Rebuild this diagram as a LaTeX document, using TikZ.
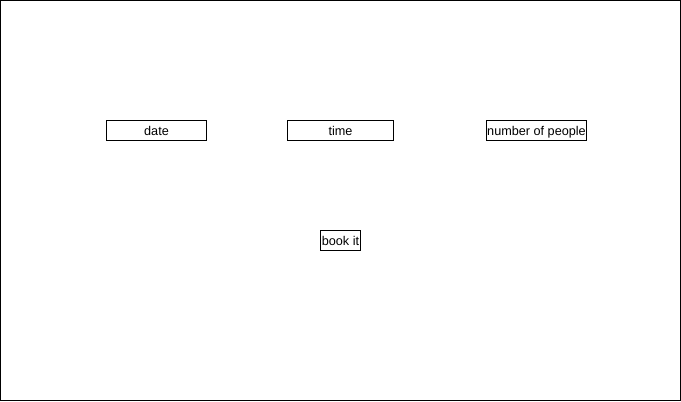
\documentclass[tikz,border=0pt]{standalone}
\usepackage{fontspec}
\setmainfont{Liberation Sans}
\begin{document}
\begin{tikzpicture}[x=0.75pt,y=-0.75pt,
    field/.style={draw,line width=0.75pt,inner sep=0pt,minimum height=15pt,text height=7.6pt,text depth=0.8pt,font=\fontsize{9.5}{10}\selectfont}]
            \draw[line width=0.75pt] (0.5,0.5) rectangle (680.5,400.5);
            \draw (156.5,130.5) node[field,minimum width=75pt] (date) {date};
            \draw (340.5,130.5) node[field,minimum width=79.5pt] (time) {time};
            \draw (536.5,130.5) node[field,minimum width=75pt] (people) {number of people};
            \draw (340.5,240.5) node[field,minimum width=30pt] (book) {book it};
         \end{tikzpicture}
\end{document}
